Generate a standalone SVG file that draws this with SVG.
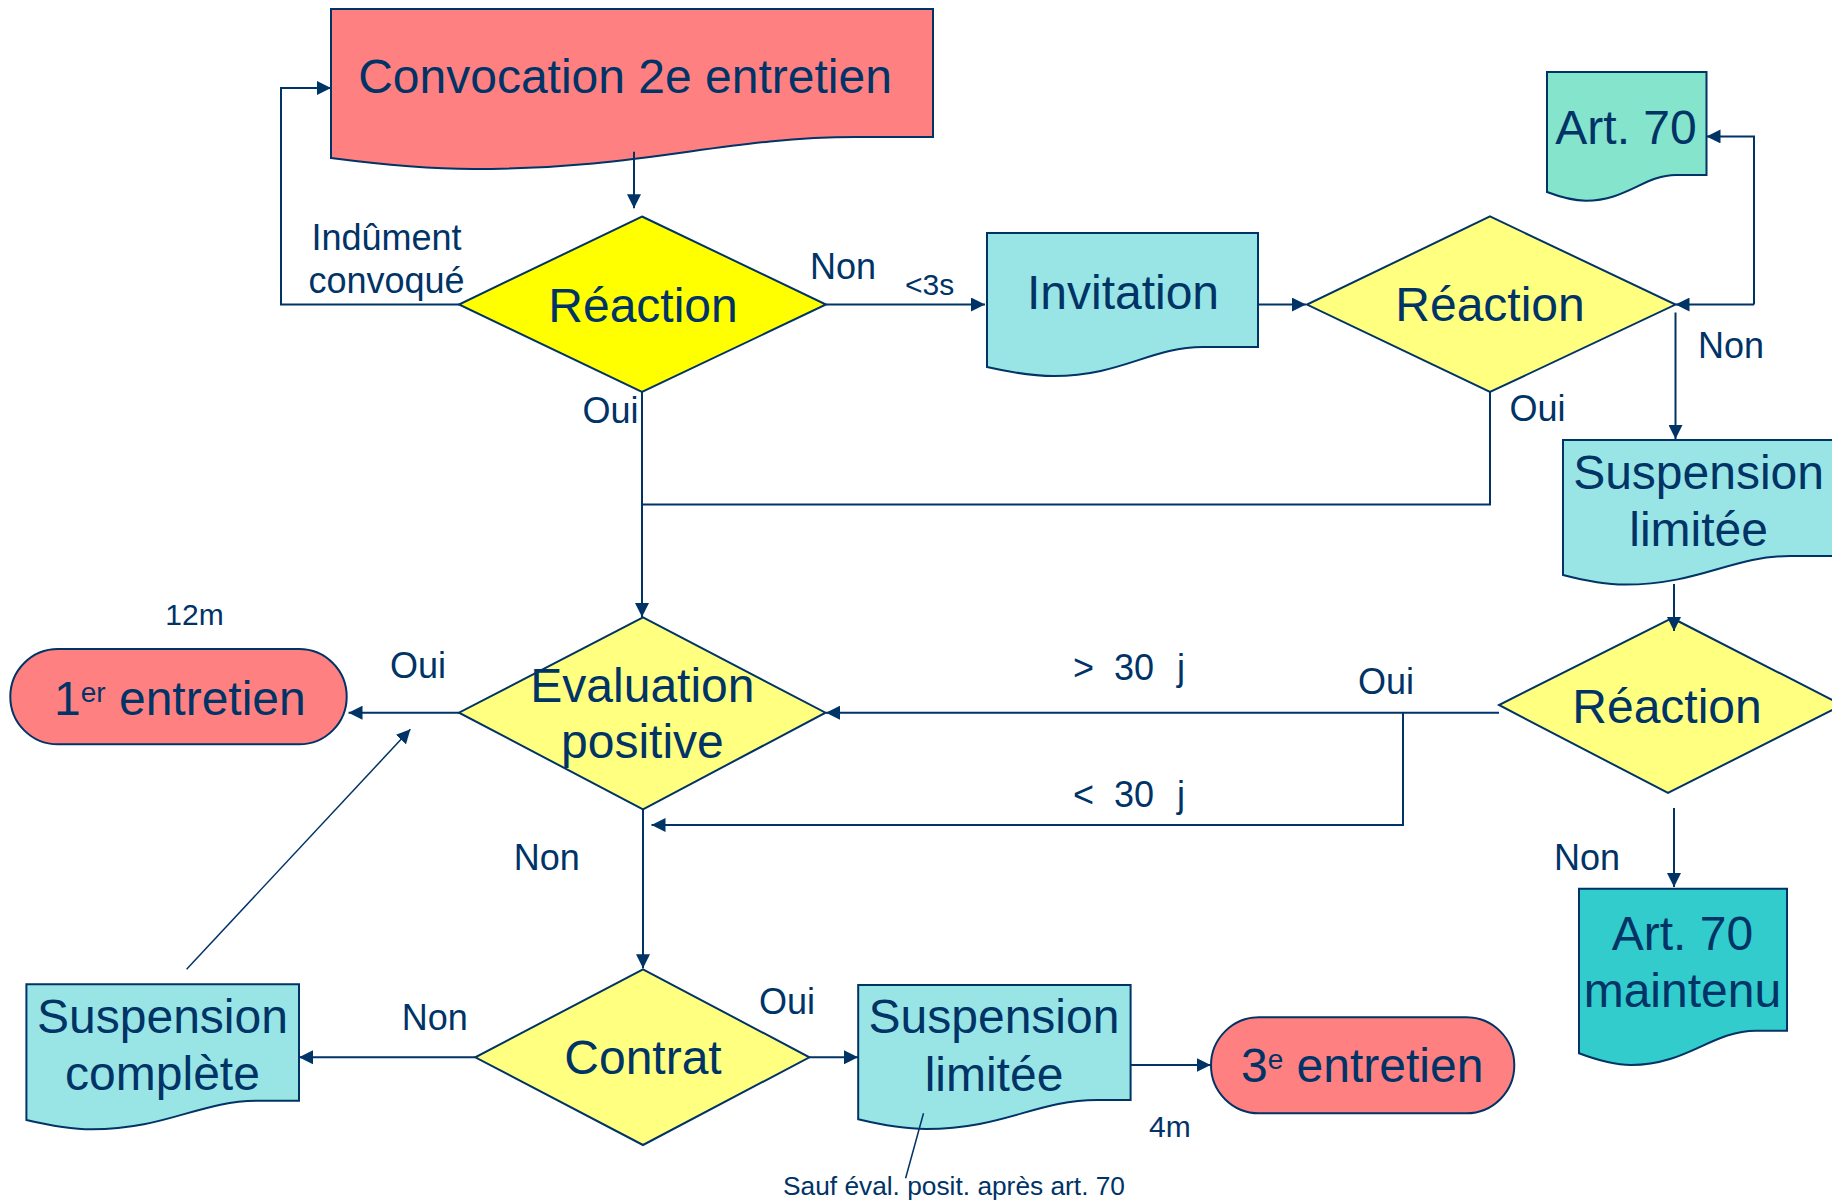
<svg xmlns="http://www.w3.org/2000/svg" width="1832" height="1202" viewBox="0 0 1832 1202">
<style>
.shape{stroke:#003366;stroke-width:2;stroke-linejoin:miter}
.salmon{fill:#FF8080}
.cyan{fill:#99E5E5}
.mint{fill:#84E4CC}
.teal{fill:#33CCCC}
.yellow{fill:#FFFF00}
.lyellow{fill:#FFFF80}
.big{font-family:"Liberation Sans",Arial,sans-serif;font-size:48px;fill:#003366;text-anchor:middle}
.lbl{font-family:"Liberation Sans",Arial,sans-serif;font-size:36px;fill:#003366}
.sm{font-family:"Liberation Sans",Arial,sans-serif;font-size:30px;fill:#003366}
.conn{fill:none;stroke:#003366;stroke-width:2}
.thin{fill:none;stroke:#003366;stroke-width:1.5}
</style>
<defs>
<marker id="arr" markerUnits="userSpaceOnUse" markerWidth="14" markerHeight="14" refX="14" refY="7" orient="auto">
<path d="M0,0 L14,7 L0,14 Z" fill="#003366"/>
</marker>
</defs>

<g id="convocation">
<path class="shape salmon" d="M331,9 H933 V137 H857 C722.6,137 645.8,169 473,169 Q416,169 331,158 Z"/>
<text class="big" x="625" y="92.7">Convocation 2e entretien</text>
</g>

<g id="reaction1">
<polygon class="shape yellow" points="642,216.5 826,304.5 642,392 459,304.5"/>
<text class="big" x="643" y="321.7">Réaction</text>
</g>

<g id="invitation">
<path class="shape cyan" d="M987,233 H1258 V347 H1203 C1151,347 1121,376 1054,376 Q1027,376 987,367 Z"/>
<text class="big" x="1123" y="309">Invitation</text>
</g>

<g id="reaction2">
<polygon class="shape lyellow" points="1490,216.4 1675.5,304.6 1490,392 1307,304.6"/>
<text class="big" x="1490" y="321.4">Réaction</text>
</g>

<g id="art70">
<path class="shape mint" d="M1547,72 H1706.5 V175 H1676 C1644.5,175 1626.5,200.7 1586,200.7 Q1570,200.7 1547,192 Z"/>
<text class="big" x="1626" y="143.6">Art. 70</text>
</g>

<g id="suspension-limitee-1">
<path class="shape cyan" d="M1563,440 H1834 V556 H1790 C1732,556 1699,584.6 1625,584.6 Q1600,584.6 1563,575 Z"/>
<text class="big" x="1698.6" y="489">Suspension</text>
<text class="big" x="1698.6" y="546">limitée</text>
</g>

<g id="reaction3">
<polygon class="shape lyellow" points="1672,618 1842,705 1668,793 1499,705"/>
<text class="big" x="1667" y="723.3">Réaction</text>
</g>

<g id="evaluation">
<polygon class="shape lyellow" points="643,617.3 825.5,712.7 643,809.3 459,712.7"/>
<text class="big" x="642.4" y="701.7">Evaluation</text>
<text class="big" x="642.4" y="757.5">positive</text>
</g>

<g id="entretien1">
<rect class="shape salmon" x="10.3" y="649" width="336.4" height="95.3" rx="47.6" ry="47.6"/>
<text class="big" x="54" y="715" style="text-anchor:start">1<tspan font-size="28" dy="-13">er</tspan><tspan dy="13"> entretien</tspan></text>
</g>

<g id="art70-maintenu">
<path class="shape teal" d="M1579,888.7 H1787 V1030.7 H1756 C1712,1030.7 1687,1065 1631,1065 Q1610,1065 1579,1053.3 Z"/>
<text class="big" x="1682.4" y="950">Art. 70</text>
<text class="big" x="1682.4" y="1007.3">maintenu</text>
</g>

<g id="contrat">
<polygon class="shape lyellow" points="643,969.3 809.4,1057.3 643,1145 475.3,1057.3"/>
<text class="big" x="643" y="1074">Contrat</text>
</g>

<g id="suspension-complete">
<path class="shape cyan" d="M26.4,984.3 H299 V1100.7 H258 C200,1100.7 166.5,1129.3 91.8,1129.3 Q66,1129.3 26.4,1120 Z"/>
<text class="big" x="162.5" y="1033.3">Suspension</text>
<text class="big" x="162.5" y="1090">complète</text>
</g>

<g id="suspension-limitee-2">
<path class="shape cyan" d="M858.2,985 H1130.6 V1100 H1097 C1037,1100 1003,1129 926,1129 Q899,1129 858.2,1119.3 Z"/>
<text class="big" x="994" y="1033.3">Suspension</text>
<text class="big" x="994" y="1090.7">limitée</text>
</g>

<g id="entretien3">
<rect class="shape salmon" x="1211" y="1017.3" width="303.3" height="96" rx="48" ry="48"/>
<text class="big" x="1241" y="1081.7" style="text-anchor:start">3<tspan font-size="28" dy="-13">e</tspan><tspan dy="13"> entretien</tspan></text>
</g>

<g id="connectors">
<path class="conn" d="M634,151.7 V208.3" marker-end="url(#arr)"/>
<path class="conn" d="M459,304.5 H281 V88 H331" marker-end="url(#arr)"/>
<path class="conn" d="M826,304.5 H985" marker-end="url(#arr)"/>
<path class="conn" d="M1258,304.6 H1306" marker-end="url(#arr)"/>
<path class="conn" d="M1754,304.6 H1675.5" marker-end="url(#arr)"/>
<path class="conn" d="M1754,304.6 V136.4 H1706.5" marker-end="url(#arr)"/>
<path class="conn" d="M1675.5,312.5 V439" marker-end="url(#arr)"/>
<path class="conn" d="M1490,392 V504.6 H642"/>
<path class="conn" d="M642,392 V617" marker-end="url(#arr)"/>
<path class="conn" d="M1674,584 V631" marker-end="url(#arr)"/>
<path class="conn" d="M1499,712.7 H826" marker-end="url(#arr)"/>
<path class="conn" d="M1403,712.7 V825 H651.5" marker-end="url(#arr)"/>
<path class="conn" d="M1674,808 V887" marker-end="url(#arr)"/>
<path class="conn" d="M459,712.7 H348.5" marker-end="url(#arr)"/>
<path class="thin" d="M186.6,969.3 L410.4,729.3" marker-end="url(#arr)"/>
<path class="conn" d="M643,809.3 V968.3" marker-end="url(#arr)"/>
<path class="conn" d="M475.3,1057.3 H299" marker-end="url(#arr)"/>
<path class="conn" d="M809.4,1057.3 H858" marker-end="url(#arr)"/>
<path class="conn" d="M1131,1065 H1210.7" marker-end="url(#arr)"/>
<path class="thin" d="M923.5,1113.3 L905.6,1178.3"/>
</g>

<g id="labels">
<text class="lbl" x="386.5" y="250" text-anchor="middle">Indûment</text>
<text class="lbl" x="386.5" y="293.3" text-anchor="middle">convoqué</text>
<text class="lbl" x="810" y="279.3">Non</text>
<text class="sm" x="905" y="295">&lt;3s</text>
<text class="lbl" x="582.6" y="422.5">Oui</text>
<text class="lbl" x="1509.6" y="421">Oui</text>
<text class="lbl" x="1698" y="358">Non</text>
<text class="sm" x="165.3" y="625">12m</text>
<text class="lbl" x="390" y="678.3">Oui</text>
<text class="lbl" y="680"><tspan x="1073">&gt;</tspan><tspan x="1114">30</tspan><tspan x="1177">j</tspan></text>
<text class="lbl" x="1358" y="694.3">Oui</text>
<text class="lbl" y="806.7"><tspan x="1073">&lt;</tspan><tspan x="1114">30</tspan><tspan x="1177">j</tspan></text>
<text class="lbl" x="513.8" y="870">Non</text>
<text class="lbl" x="1554" y="870">Non</text>
<text class="lbl" x="401.8" y="1030">Non</text>
<text class="lbl" x="759" y="1014">Oui</text>
<text class="sm" x="1149" y="1136.7">4m</text>
<text x="783" y="1195" style="font-family:'Liberation Sans',Arial,sans-serif;font-size:26px;fill:#003366" textLength="342" lengthAdjust="spacingAndGlyphs">Sauf éval. posit. après art. 70</text>
</g>
</svg>
